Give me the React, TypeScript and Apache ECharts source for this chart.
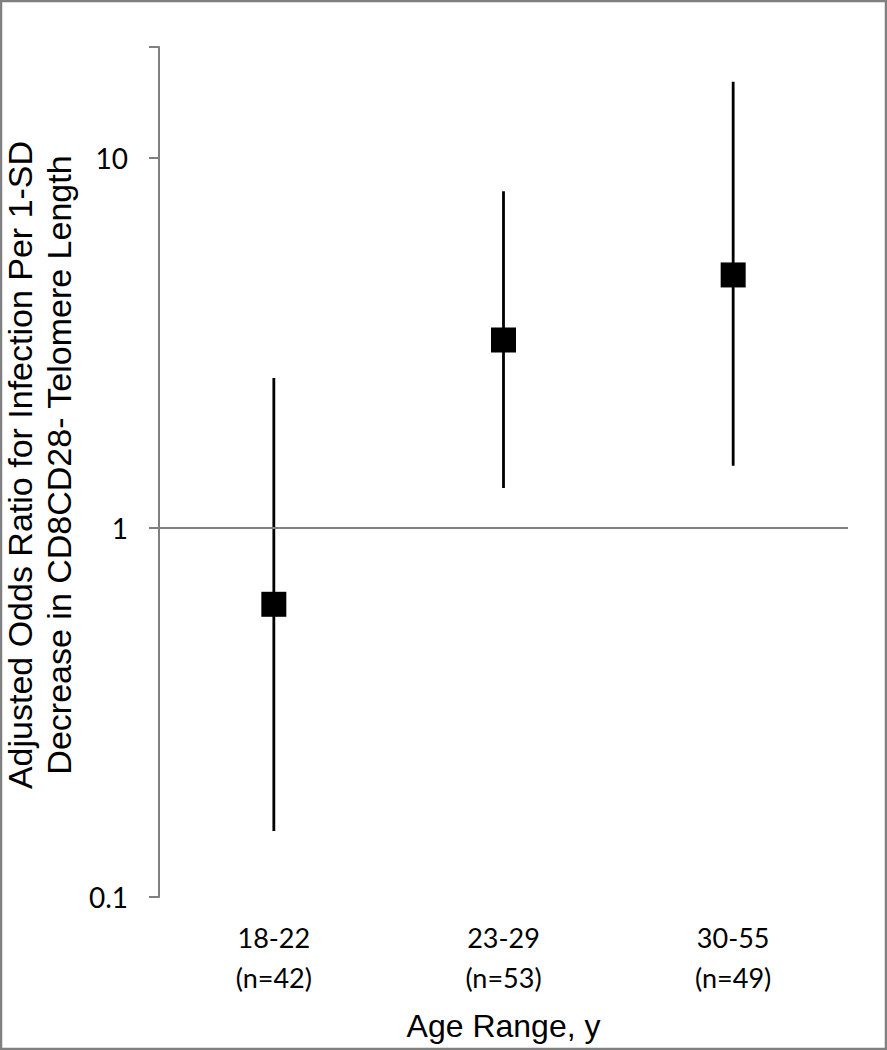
import React, { useEffect, useRef } from "react";
import * as echarts from "echarts";

const categories = ["18-22\n(n=42)", "23-29\n(n=53)", "30-55\n(n=49)"];
const oddsRatio = [0.62, 3.22, 4.83];
const ciLower = [0.151, 1.28, 1.47];
const ciUpper = [2.54, 8.14, 16.1];
const yTicks = [0.1, 1, 10];

const yTitle = "Adjusted Odds Ratio for Infection Per 1-SD\nDecrease in CD8CD28- Telomere Length";
const xTitle = "Age Range, y";

export default function App() {
  const ref = useRef<HTMLDivElement>(null);
  useEffect(() => {
    if (!ref.current) return;
    const chart = echarts.init(ref.current, null, { renderer: "svg" });
    const errData = categories.map((_, i) => [i, ciLower[i], ciUpper[i]]);
    chart.setOption({
      animation: false,
      backgroundColor: "#ffffff",
      grid: {
        left: 159,
        right: 39,
        top: 47,
        bottom: 153,
        containLabel: false,
        outerBoundsMode: "none",
      },
      graphic: [
        {
          type: "rect",
          shape: { x: 1, y: 1, width: 885, height: 1048 },
          style: { fill: "none", stroke: "#808080", lineWidth: 2.5 },
          silent: true,
        },
      ],
      xAxis: {
        type: "category",
        data: categories,
        boundaryGap: true,
        position: "bottom",
        axisLine: { show: false },
        axisTick: { show: false },
        splitLine: { show: false },
        axisLabel: {
          fontFamily: "Lato",
          fontSize: 27,
          lineHeight: 40,
          color: "#000",
          margin: 20,
        },
        name: xTitle,
        nameLocation: "middle",
        nameGap: 113,
        nameTextStyle: {
          fontFamily: "Liberation Sans",
          fontSize: 32,
          lineHeight: 32,
          color: "#000",
          verticalAlign: "top",
        },
      },
      yAxis: {
        type: "log",
        logBase: 10,
        min: 0.1,
        max: 20,
        axisLine: { show: true, lineStyle: { color: "#808080", width: 2 } },
        axisTick: { show: true, length: 10, lineStyle: { color: "#808080", width: 2 } },
        splitLine: { show: false },
        minorTick: { show: false },
        axisLabel: {
          fontFamily: "Lato",
          fontSize: 28,
          color: "#000",
          margin: 31,
          customValues: yTicks,
          formatter: (v: number) => (v < 1 ? v.toFixed(1) : String(Math.round(v))),
        },
        name: yTitle,
        nameLocation: "middle",
        nameGap: 76,
        nameTextStyle: {
          fontFamily: "Liberation Sans",
          fontSize: 34,
          lineHeight: 39,
          color: "#000",
          align: "center",
          padding: [0, 0, 0, 14],
        },
      },
      series: [
        {
          type: "custom",
          data: errData,
          z: 2,
          renderItem: (params: any, api: any) => {
            const x = api.value(0);
            const p1 = api.coord([x, api.value(1)]);
            const p2 = api.coord([x, api.value(2)]);
            return {
              type: "line",
              shape: { x1: p1[0], y1: p1[1], x2: p2[0], y2: p2[1] },
              style: { stroke: "#000", lineWidth: 2.8 },
            };
          },
        },
        {
          type: "scatter",
          data: oddsRatio.map((v, i) => [i, v]),
          symbol: "rect",
          symbolSize: 25,
          itemStyle: { color: "#000", opacity: 1 },
          z: 3,
          markLine: {
            silent: true,
            symbol: "none",
            label: { show: false },
            lineStyle: { color: "#808080", width: 2, type: "solid" },
            data: [{ yAxis: 1 }],
          },
        },
      ],
    });
    return () => chart.dispose();
  }, []);
  return (
    <div
      ref={ref}
      style={{ position: "absolute", left: 0, top: 0, width: 887, height: 1050 }}
    />
  );
}
